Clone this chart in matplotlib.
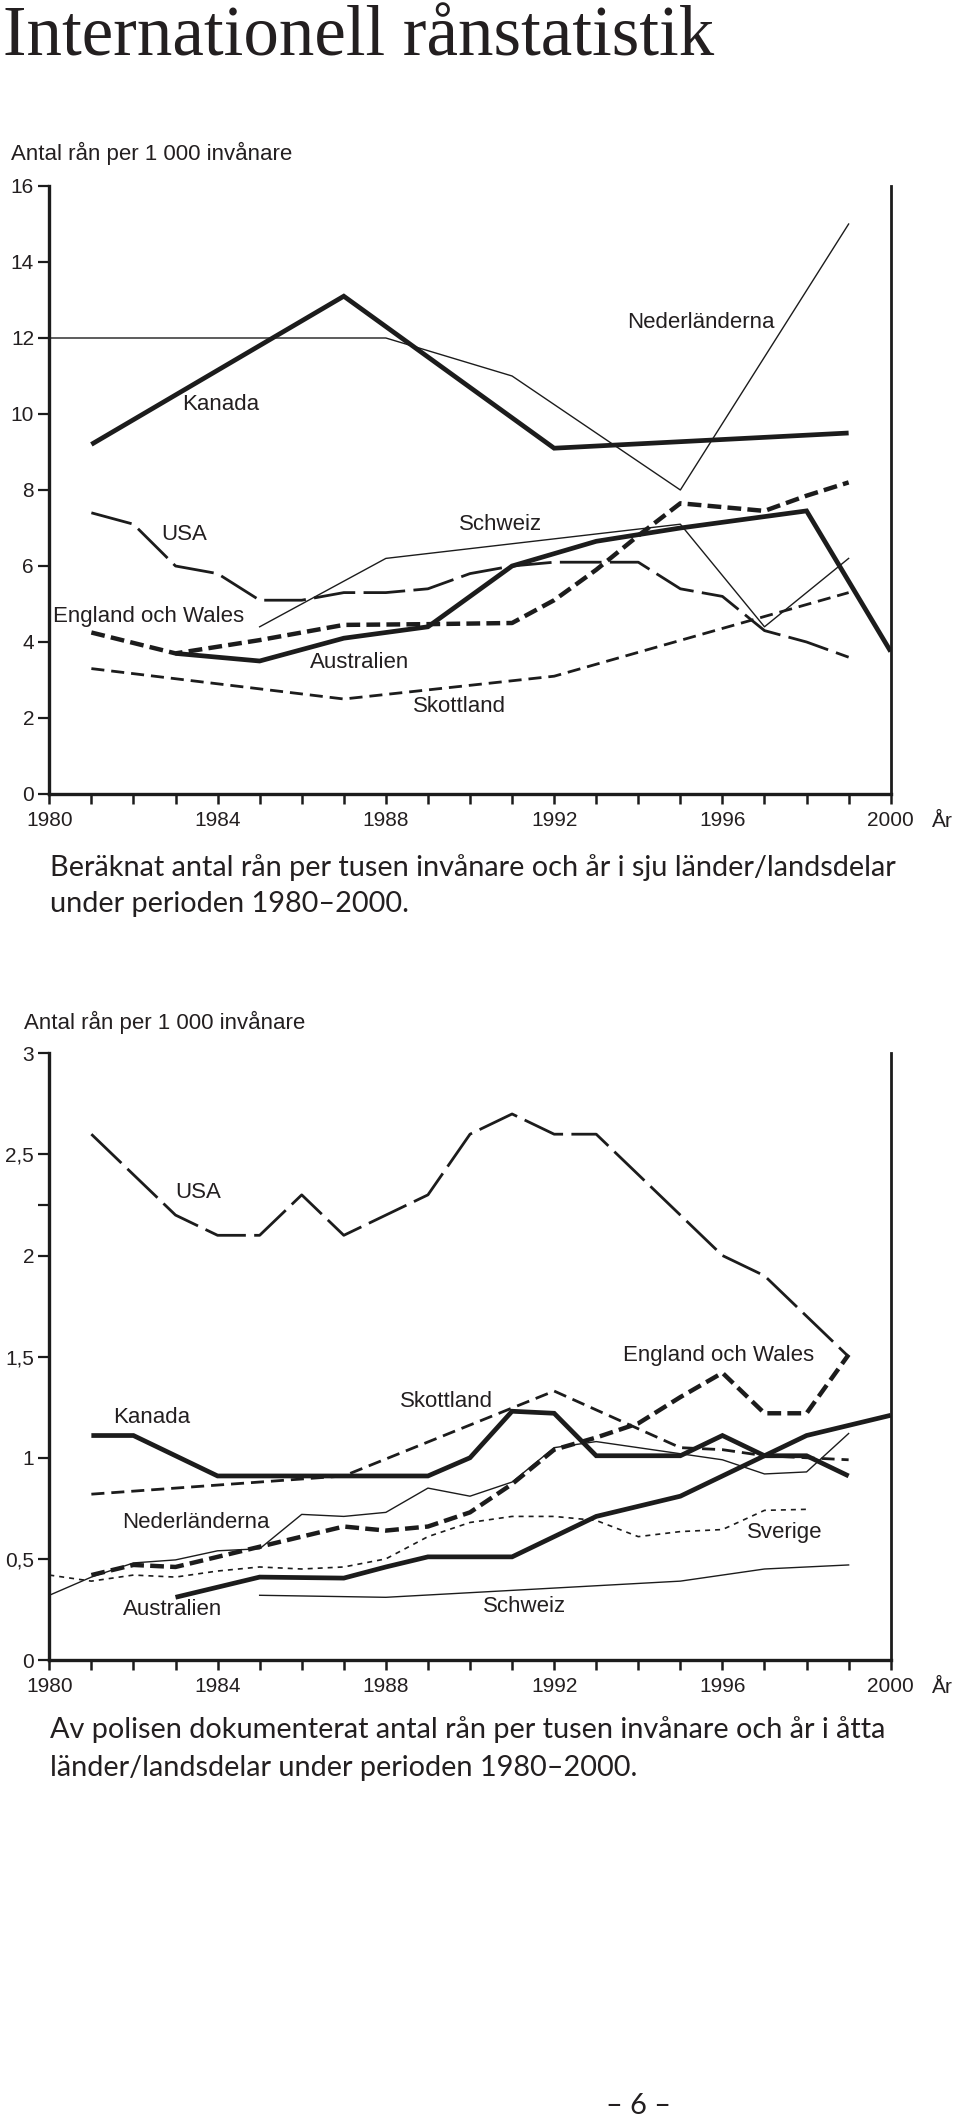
import matplotlib
matplotlib.use("Agg")
import matplotlib.pyplot as plt

# --- data, upper chart (estimated robberies per 1000 inhabitants) ---
t_kanada_yr = [1981, 1987, 1992, 1999]
t_kanada = [9.2, 13.1, 9.1, 9.5]
t_ned_yr = [1980, 1988, 1991, 1995, 1999]
t_ned = [12.0, 12.0, 11.0, 8.0, 15.0]
t_schweiz_yr = [1985, 1988, 1995, 1997, 1999]
t_schweiz = [4.4, 6.2, 7.1, 4.4, 6.2]
t_usa_yr = list(range(1981, 2000))
t_usa = [7.4, 7.1, 6.0, 5.8, 5.1, 5.1, 5.3, 5.3, 5.4, 5.8,
         6.0, 6.1, 6.1, 6.1, 5.4, 5.2, 4.3, 4.0, 3.6]
t_eng_yr = [1981, 1983, 1985, 1987, 1989, 1991, 1992, 1993, 1994, 1995, 1996, 1997, 1998, 1999]
t_eng = [4.25, 3.7, 4.05, 4.45, 4.47, 4.5, 5.1, 5.9, 6.8, 7.65, 7.55, 7.45, 7.85, 8.2]
t_aus_yr = [1983, 1985, 1987, 1989, 1991, 1993, 1995, 1998, 2000]
t_aus = [3.7, 3.5, 4.1, 4.4, 6.0, 6.65, 7.0, 7.45, 3.75]
t_skot_yr = [1981, 1987, 1992, 1999]
t_skot = [3.3, 2.5, 3.1, 5.3]

# --- data, lower chart (police recorded robberies per 1000 inhabitants) ---
b_usa_yr = list(range(1981, 2000))
b_usa = [2.6, 2.4, 2.2, 2.1, 2.1, 2.3, 2.1, 2.2, 2.3, 2.6,
         2.7, 2.6, 2.6, 2.4, 2.2, 2.0, 1.9, 1.7, 1.5]
b_eng_yr = list(range(1981, 2000))
b_eng = [0.42, 0.47, 0.46, 0.51, 0.56, 0.61, 0.66, 0.64, 0.66, 0.73,
         0.87, 1.04, 1.10, 1.17, 1.30, 1.42, 1.22, 1.22, 1.51]
b_kanada_yr = list(range(1981, 2000))
b_kanada = [1.11, 1.11, 1.01, 0.91, 0.91, 0.91, 0.91, 0.91, 0.91, 1.0,
            1.23, 1.22, 1.01, 1.01, 1.01, 1.11, 1.01, 1.01, 0.91]
b_skot_yr = [1981, 1987, 1992, 1995, 1996, 1997, 1999]
b_skot = [0.82, 0.91, 1.33, 1.05, 1.04, 1.01, 0.99]
b_ned_yr = list(range(1980, 2000))
b_ned = [0.32, 0.41, 0.48, 0.495, 0.54, 0.55, 0.72, 0.71, 0.73, 0.85,
         0.81, 0.88, 1.05, 1.08, 1.05, 1.02, 0.99, 0.92, 0.93, 1.12]
b_sve_yr = list(range(1980, 1999))
b_sve = [0.42, 0.39, 0.42, 0.41, 0.44, 0.46, 0.45, 0.46, 0.5, 0.61,
         0.68, 0.71, 0.71, 0.69, 0.61, 0.635, 0.645, 0.74, 0.745]
b_aus_yr = [1983, 1985, 1987, 1988, 1989, 1991, 1992, 1993, 1995, 1996, 1997, 1998, 2000]
b_aus = [0.31, 0.41, 0.405, 0.46, 0.51, 0.51, 0.61, 0.71, 0.81, 0.91, 1.01, 1.11, 1.21]
b_schweiz_yr = [1985, 1988, 1995, 1997, 1999]
b_schweiz = [0.32, 0.31, 0.39, 0.45, 0.47]

top_yticks = [0, 2, 4, 6, 8, 10, 12, 14, 16]
bot_yticks = [0, 0.5, 1, 1.5, 2, 2.5, 3]
bot_ylabels = ["0", "0,5", "1", "1,5", "2", "2,5", "3"]

INK = "#1c1c1c"
TXT = "#231f20"
SANS = ["Liberation Sans", "DejaVu Sans"]

thick = dict(color=INK, lw=3.4, solid_joinstyle="miter", solid_capstyle="butt")
thin = dict(color=INK, lw=1.0)
longdash = dict(color=INK, lw=2.0, linestyle=(0, (15, 3)))
heavydash = dict(color=INK, lw=3.2, linestyle=(0, (3.1, 1.4)))
meddash = dict(color=INK, lw=2.0, linestyle=(0, (4.7, 2.5)))
dotted = dict(color=INK, lw=1.2, linestyle=(0, (3, 3)))

plt.rcParams["font.family"] = SANS

fig = plt.figure(figsize=(9.6, 21.16), dpi=100)
W, H = 960.0, 2116.0


def style_axes(ax, ymax):
    ax.set_xlim(1980, 2000)
    ax.set_ylim(0, ymax)
    ax.spines["top"].set_visible(False)
    ax.spines["left"].set_linewidth(2.4)
    ax.spines["bottom"].set_linewidth(2.4)
    ax.spines["right"].set_linewidth(2.0)
    for s in ax.spines.values():
        s.set_color(INK)
    ax.set_xticks(range(1980, 2001, 4))
    ax.set_xticks(range(1980, 2001), minor=True)
    ax.tick_params(axis="x", which="both", direction="out", length=7, width=1.8,
                   pad=5, labelsize=15, colors=INK, labelcolor=TXT)
    ax.tick_params(axis="y", which="both", direction="out", length=8, width=1.6,
                   pad=3, labelsize=15, colors=INK, labelcolor=TXT)
    ax.annotate("År", xy=(1, 0), xycoords="axes fraction", xytext=(37, -23.5),
                textcoords="offset points", ha="center", va="baseline",
                fontsize=15, color=TXT)


# upper chart
ax1 = fig.add_axes([49.3 / W, 1 - 794 / H, 841.4 / W, 608 / H])
style_axes(ax1, 16)
ax1.set_yticks(top_yticks)
ax1.plot(t_ned_yr, t_ned, **thin)
ax1.plot(t_schweiz_yr, t_schweiz, **thin)
ax1.plot(t_skot_yr, t_skot, **meddash)
ax1.plot(t_usa_yr, t_usa, **longdash)
ax1.plot(t_eng_yr, t_eng, **heavydash)
ax1.plot(t_aus_yr, t_aus, **thick)
ax1.plot(t_kanada_yr, t_kanada, **thick)

lab = dict(fontsize=16, color=TXT, ha="left", va="center")
ax1.text(1983.15, 10.24, "Kanada", **lab)
ax1.text(1993.73, 12.42, "Nederländerna", **lab)
ax1.text(1982.66, 6.84, "USA", **lab)
ax1.text(1989.74, 7.1, "Schweiz", **lab)
ax1.text(1980.09, 4.68, "England och Wales", **lab)
ax1.text(1986.2, 3.47, "Australien", **lab)
ax1.text(1988.65, 2.29, "Skottland", **lab)

# lower chart
ax2 = fig.add_axes([49.3 / W, 1 - 1660 / H, 841.4 / W, 606.7 / H])
style_axes(ax2, 3)
ax2.set_yticks(bot_yticks)
ax2.set_yticklabels(bot_ylabels)
ax2.set_yticks([2.25], minor=True)
ax2.plot(b_schweiz_yr, b_schweiz, **thin)
ax2.plot(b_ned_yr, b_ned, **thin)
ax2.plot(b_sve_yr, b_sve, **dotted)
ax2.plot(b_skot_yr, b_skot, **meddash)
ax2.plot(b_usa_yr, b_usa, **longdash)
ax2.plot(b_eng_yr, b_eng, **heavydash)
ax2.plot(b_aus_yr, b_aus, **thick)
ax2.plot(b_kanada_yr, b_kanada, **thick)

ax2.text(1982.99, 2.31, "USA", **lab)
ax2.text(1993.64, 1.508, "England och Wales", **lab)
ax2.text(1981.51, 1.197, "Kanada", **lab)
ax2.text(1988.34, 1.276, "Skottland", **lab)
ax2.text(1981.73, 0.678, "Nederländerna", **lab)
ax2.text(1981.75, 0.252, "Australien", **lab)
ax2.text(1990.31, 0.267, "Schweiz", **lab)
ax2.text(1996.58, 0.628, "Sverige", **lab)

# page texts
fig.text(3 / W, 1 - 55 / H, "Internationell rånstatistik", family="Liberation Serif",
         fontsize=51, color=TXT, va="baseline", ha="left")
fig.text(11 / W, 1 - 160 / H, "Antal rån per 1 000 invånare", fontsize=16, color=TXT,
         va="baseline", ha="left")
fig.text(24 / W, 1 - 1029 / H, "Antal rån per 1 000 invånare", fontsize=16, color=TXT,
         va="baseline", ha="left")

cap = dict(family=["Lato", "DejaVu Sans"], fontsize=20.8, color=TXT, va="baseline", ha="left")
fig.text(50 / W, 1 - 876 / H,
         "Beräknat antal rån per tusen invånare och år i sju länder/landsdelar", **cap)
fig.text(50 / W, 1 - 912 / H, "under perioden 1980–2000.", **cap)
fig.text(50 / W, 1 - 1738 / H,
         "Av polisen dokumenterat antal rån per tusen invånare och år i åtta", **cap)
fig.text(50 / W, 1 - 1776 / H, "länder/landsdelar under perioden 1980–2000.", **cap)
fig.text(639 / W, 1 - 2114 / H, "– 6 –", **dict(cap, ha="center"))

fig.savefig("out.png", dpi=100, facecolor="white")
